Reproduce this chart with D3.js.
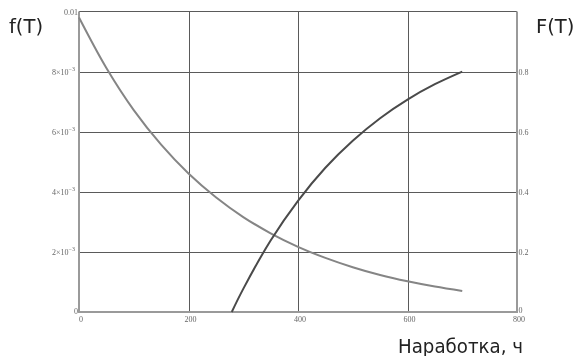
<!DOCTYPE html>
<html>
<head>
<meta charset="utf-8">
<script src="https://cdn.jsdelivr.net/npm/d3@7"></script>
<style>
  html, body { margin: 0; padding: 0; background: #fff; }
  svg { display: block; filter: grayscale(1); }
</style>
</head>
<body>
<svg id="chart" width="579" height="356"></svg>
<script>
// Operating time, hours
const hours = [0, 50, 100, 150, 200, 250, 300, 350, 400, 450, 500, 550, 600, 650, 700];
// Failure density f(T)
const density = [0.0098, 0.00812, 0.00672, 0.00557, 0.00461, 0.00382, 0.00316, 0.00262, 0.00217,
                 0.0018, 0.00149, 0.00123, 0.00102, 0.000845, 0.0007];
// Failure probability F(T), starting where it leaves zero
const probHours = [279, 300, 350, 400, 450, 500, 550, 600, 650, 700];
const probability = [0, 0.077, 0.238, 0.37, 0.48, 0.57, 0.645, 0.707, 0.758, 0.8];

const xTicks = [0, 200, 400, 600, 800];
const leftTicks = [0, 0.002, 0.004, 0.006, 0.008, 0.01];
const leftTickLabels = [["0", ""], ["2×10", "−3"], ["4×10", "−3"], ["6×10", "−3"], ["8×10", "−3"], ["0.01", ""]];
const rightTicks = [0, 0.2, 0.4, 0.6, 0.8];
const rightTickLabels = ["0", "0.2", "0.4", "0.6", "0.8"];

const svg = d3.select("#chart");
const plot = { left: 79, right: 517, top: 11.5, bottom: 312 };

const x = d3.scaleLinear().domain([0, 800]).range([plot.left, plot.right]);
const yL = d3.scaleLinear().domain([0, 0.01]).range([plot.bottom, plot.top]);
const yR = d3.scaleLinear().domain([0, 1]).range([plot.bottom, plot.top]);

const tickFont = "'Liberation Serif', 'Times New Roman', serif";
const tickColor = "#666";

// grid
const grid = svg.append("g").attr("stroke", "#5a5a5a").attr("stroke-width", 1);
grid.selectAll("line.h").data(leftTicks.filter(d => d > 0 && d < 0.01)).join("line")
  .attr("x1", plot.left).attr("x2", plot.right)
  .attr("y1", d => Math.round(yL(d)) + 0.5).attr("y2", d => Math.round(yL(d)) + 0.5);
grid.selectAll("line.v").data(xTicks.filter(d => d > 0 && d < 800)).join("line")
  .attr("y1", plot.top).attr("y2", plot.bottom)
  .attr("x1", d => Math.round(x(d)) + 0.5).attr("x2", d => Math.round(x(d)) + 0.5);

// top border
svg.append("line").attr("x1", plot.left).attr("x2", plot.right)
  .attr("y1", plot.top).attr("y2", plot.top)
  .attr("stroke", "#5a5a5a").attr("stroke-width", 1);

// axes frame
const frame = svg.append("g").attr("stroke", "#9a9a9a").attr("stroke-width", 2);
frame.append("line").attr("x1", plot.left).attr("x2", plot.left).attr("y1", plot.top).attr("y2", plot.bottom + 1);
frame.append("line").attr("x1", plot.right).attr("x2", plot.right).attr("y1", plot.top).attr("y2", plot.bottom + 1);
frame.append("line").attr("x1", plot.left).attr("x2", plot.right).attr("y1", plot.bottom).attr("y2", plot.bottom);

// curves
const line = d3.line().curve(d3.curveCatmullRom.alpha(0.5));
svg.append("path")
  .attr("d", line(hours.map((h, i) => [x(h), yL(density[i])])))
  .attr("fill", "none").attr("stroke", "#858585").attr("stroke-width", 2);
svg.append("path")
  .attr("d", line(probHours.map((h, i) => [x(h), yR(probability[i])])))
  .attr("fill", "none").attr("stroke", "#4a4a4a").attr("stroke-width", 2);

// left tick labels
const lt = svg.append("g")
  .attr("font-family", tickFont).attr("font-size", 8).attr("fill", tickColor);
leftTicks.forEach((v, i) => {
  const [base, sup] = leftTickLabels[i];
  const t = lt.append("text").attr("text-anchor", "end")
    .attr("x", sup ? 75 : 78)
    .attr("y", yL(v) + (i === 0 ? 2 : 3));
  t.append("tspan").text(base);
  if (sup) t.append("tspan").attr("dy", -4).attr("font-size", 6).text(sup);
});

// right tick labels
const rt = svg.append("g")
  .attr("font-family", tickFont).attr("font-size", 8).attr("fill", tickColor);
rt.selectAll("text").data(rightTicks).join("text")
  .attr("x", plot.right + 1.5)
  .attr("y", d => yR(d) + (d === 0 ? 1 : 3))
  .text((d, i) => rightTickLabels[i]);

// bottom tick labels
const bt = svg.append("g")
  .attr("font-family", tickFont).attr("font-size", 8).attr("fill", tickColor)
  .attr("text-anchor", "middle");
bt.selectAll("text").data(xTicks).join("text")
  .attr("x", d => x(d) + 2)
  .attr("y", plot.bottom + 9.5)
  .text(d => d);

// axis titles
const titleFont = "'DejaVu Sans', Verdana, sans-serif";
svg.append("text").attr("x", 9).attr("y", 33)
  .attr("font-family", titleFont).attr("font-size", 19.5).attr("fill", "#222").text("f(T)");
svg.append("text").attr("x", 536).attr("y", 33)
  .attr("font-family", titleFont).attr("font-size", 19.5).attr("fill", "#222").text("F(T)");
svg.append("text").attr("x", 398).attr("y", 353)
  .attr("font-family", titleFont).attr("font-size", 19).attr("fill", "#222")
  .attr("textLength", 125).attr("lengthAdjust", "spacingAndGlyphs")
  .text("Наработка, ч");
</script>
</body>
</html>
